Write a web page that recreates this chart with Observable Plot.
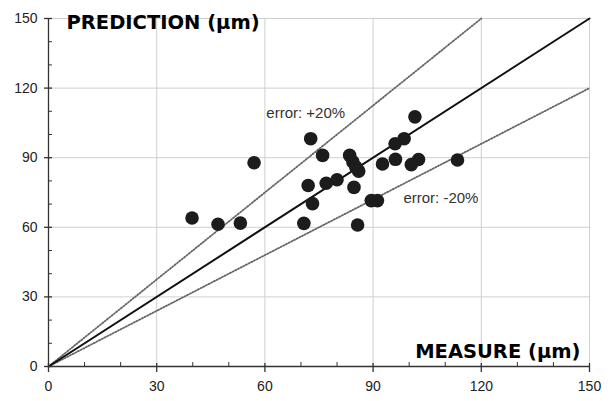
<!DOCTYPE html>
<html><head><meta charset="utf-8">
<script src="https://cdn.jsdelivr.net/npm/d3@7"></script>
<script src="https://cdn.jsdelivr.net/npm/@observablehq/plot@0.6"></script>
<style>
html,body{margin:0;padding:0;background:#fff;}
svg{display:block;}
</style>
</head><body>
<div id="chart"></div>
<script>
// Data
const measure    = [39.8, 47.0, 53.2, 57.0, 70.8, 72.0, 72.7, 73.2, 76.0, 77.0, 80.0, 83.5, 84.4, 85.2, 86.0, 84.7, 85.7, 89.5, 91.2, 92.6, 96.2, 96.1, 98.6, 101.6, 100.6, 102.6, 113.4];
const prediction = [64.0, 61.3, 61.8, 87.8, 61.7, 78.0, 98.2, 70.2, 91.0, 79.0, 80.5, 91.0, 88.2, 86.0, 84.2, 77.2, 61.0, 71.5, 71.5, 87.3, 89.3, 96.0, 98.2, 107.6, 87.0, 89.2, 89.0];

const identityX = [0, 150], identityY = [0, 150];
const plus20X = [0, 120],   plus20Y = [0, 150];
const minus20X = [0, 150],  minus20Y = [0, 120];

const majorTicks = [0, 30, 60, 90, 120, 150];
const minorTicks = [10, 20, 40, 50, 70, 80, 100, 110, 130, 140];

const xTitle = "MEASURE (µm)";
const yTitle = "PREDICTION (µm)";
const plusLabel = "error: +20%";
const minusLabel = "error: -20%";

const points = measure.map((m, i) => ({m, p: prediction[i]}));
const toXY = (xs, ys) => xs.map((x, i) => ({x, y: ys[i]}));

const tickFont = "Liberation Sans, Arial, sans-serif";
const boldFont = "DejaVu Sans, sans-serif";

const chart = Plot.plot({
  width: 611,
  height: 401,
  marginLeft: 48,
  marginRight: 22,
  marginTop: 18,
  marginBottom: 35,
  style: {fontFamily: tickFont, fontSize: "14px", color: "#222", background: "#fff"},
  x: {domain: [0, 150]},
  y: {domain: [0, 150]},
  marks: [
    Plot.gridX(majorTicks, {stroke: "#cfcfcf", strokeOpacity: 1, strokeWidth: 1}),
    Plot.gridY(majorTicks, {stroke: "#cfcfcf", strokeOpacity: 1, strokeWidth: 1}),
    Plot.axisX({ticks: majorTicks, tickSize: 0, tickPadding: 15, label: null, fontSize: 14, fontFamily: tickFont, fill: "#222"}),
    Plot.axisY({ticks: majorTicks, tickSize: 0, tickPadding: 11, label: null, fontSize: 14, fontFamily: tickFont, fill: "#222"}),
    // reference lines
    Plot.line(toXY(plus20X, plus20Y), {x: "x", y: "y", stroke: "#666", strokeWidth: 1.8, strokeDasharray: "1.2,1.8"}),
    Plot.line(toXY(minus20X, minus20Y), {x: "x", y: "y", stroke: "#666", strokeWidth: 1.8, strokeDasharray: "1.2,1.8"}),
    Plot.line(toXY(identityX, identityY), {x: "x", y: "y", stroke: "#111", strokeWidth: 2}),
    // axis lines and ticks
    Plot.ruleX([0], {stroke: "#333", strokeWidth: 1.3}),
    Plot.ruleY([0], {stroke: "#333", strokeWidth: 1.3}),
    Plot.ruleX(majorTicks, {x: d => d, y1: 0, y2: 0, insetTop: -3, insetBottom: -6, stroke: "#333", strokeWidth: 1.3}),
    Plot.ruleX(minorTicks, {x: d => d, y1: 0, y2: 0, insetTop: -4, stroke: "#333", strokeWidth: 1}),
    Plot.ruleY(majorTicks, {y: d => d, x1: 0, x2: 0, insetLeft: -4, insetRight: -4, stroke: "#333", strokeWidth: 1.3}),
    Plot.ruleY(minorTicks, {y: d => d, x1: 0, x2: 0, insetRight: -4, stroke: "#333", strokeWidth: 1}),
    // points
    Plot.dot(points, {x: "m", y: "p", r: 6.8, fill: "#1c1c1c", stroke: "none"}),
    // annotations
    Plot.text([plusLabel], {x: 60.4, y: 109, text: d => d, textAnchor: "start", fontFamily: tickFont, fontSize: 15, fill: "#333"}),
    Plot.text([minusLabel], {x: 98.4, y: 72.4, text: d => d, textAnchor: "start", fontFamily: tickFont, fontSize: 15, fill: "#333"}),
    Plot.text([yTitle], {x: 5, y: 148, text: d => d, textAnchor: "start", fontFamily: boldFont, fontWeight: "bold", fontSize: 19.5, fill: "#000"}),
    Plot.text([xTitle], {x: 147.5, y: 6.5, text: d => d, textAnchor: "end", fontFamily: boldFont, fontWeight: "bold", fontSize: 19.5, fill: "#000"})
  ]
});
document.getElementById("chart").appendChild(chart);
</script>
</body></html>
